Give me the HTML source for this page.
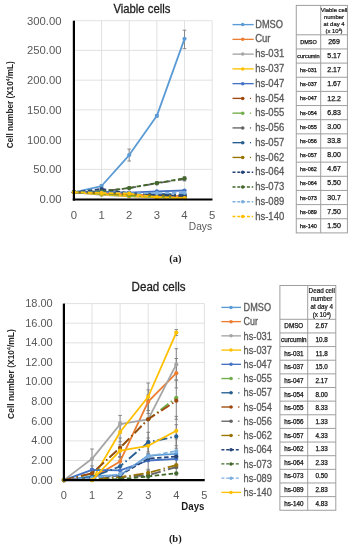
<!DOCTYPE html><html><head><meta charset="utf-8"><title>Viable and dead cells</title><style>html,body{margin:0;padding:0;background:#fff;}body{width:353px;height:550px;overflow:hidden;}svg{display:block;font-family:"Liberation Sans", sans-serif;filter:blur(0.35px);}</style></head><body>
<svg width="353" height="550" viewBox="0 0 353 550">
<rect width="353" height="550" fill="#fff"/>
<text x="113.4" y="13" font-size="12.3" fill="#1f1f1f" stroke="#1f1f1f" stroke-width="0.3" textLength="57" lengthAdjust="spacingAndGlyphs">Viable cells</text>
<text x="131.6" y="291" font-size="12.3" fill="#1f1f1f" stroke="#1f1f1f" stroke-width="0.3" textLength="54" lengthAdjust="spacingAndGlyphs">Dead cells</text>
<text transform="translate(13.0,148.2) rotate(-90)" font-size="9" font-weight="bold" fill="#262626" textLength="87" lengthAdjust="spacingAndGlyphs">Cell number (X10<tspan dy="-3" font-size="5.5">4</tspan><tspan dy="3">/mL)</tspan></text>
<text transform="translate(13.6,418.9) rotate(-90)" font-size="9" font-weight="bold" fill="#262626" textLength="89.6" lengthAdjust="spacingAndGlyphs">Cell number (X10<tspan dy="-3" font-size="5.5">4</tspan><tspan dy="3">/mL)</tspan></text>
<line x1="73.90" y1="169.37" x2="212.15" y2="169.37" stroke="#D9D9D9" stroke-width="0.8"/>
<line x1="73.90" y1="139.63" x2="212.15" y2="139.63" stroke="#D9D9D9" stroke-width="0.8"/>
<line x1="73.90" y1="109.89" x2="212.15" y2="109.89" stroke="#D9D9D9" stroke-width="0.8"/>
<line x1="73.90" y1="80.16" x2="212.15" y2="80.16" stroke="#D9D9D9" stroke-width="0.8"/>
<line x1="73.90" y1="50.42" x2="212.15" y2="50.42" stroke="#D9D9D9" stroke-width="0.8"/>
<line x1="73.90" y1="20.69" x2="212.15" y2="20.69" stroke="#D9D9D9" stroke-width="0.8"/>
<line x1="101.55" y1="20.69" x2="101.55" y2="199.10" stroke="#D9D9D9" stroke-width="0.8"/>
<line x1="129.20" y1="20.69" x2="129.20" y2="199.10" stroke="#D9D9D9" stroke-width="0.8"/>
<line x1="156.85" y1="20.69" x2="156.85" y2="199.10" stroke="#D9D9D9" stroke-width="0.8"/>
<line x1="184.50" y1="20.69" x2="184.50" y2="199.10" stroke="#D9D9D9" stroke-width="0.8"/>
<line x1="212.15" y1="20.69" x2="212.15" y2="199.10" stroke="#D9D9D9" stroke-width="0.8"/>
<text x="61.50" y="203.00" text-anchor="end" font-size="11.30" fill="#595959">0.00</text>
<text x="61.50" y="173.27" text-anchor="end" font-size="11.30" fill="#595959">50.00</text>
<text x="61.50" y="143.53" text-anchor="end" font-size="11.30" fill="#595959">100.00</text>
<text x="61.50" y="113.80" text-anchor="end" font-size="11.30" fill="#595959">150.00</text>
<text x="61.50" y="84.06" text-anchor="end" font-size="11.30" fill="#595959">200.00</text>
<text x="61.50" y="54.32" text-anchor="end" font-size="11.30" fill="#595959">250.00</text>
<text x="61.50" y="24.59" text-anchor="end" font-size="11.30" fill="#595959">300.00</text>
<text x="73.90" y="218.60" text-anchor="middle" font-size="11.30" fill="#595959">0</text>
<text x="101.55" y="218.60" text-anchor="middle" font-size="11.30" fill="#595959">1</text>
<text x="129.20" y="218.60" text-anchor="middle" font-size="11.30" fill="#595959">2</text>
<text x="156.85" y="218.60" text-anchor="middle" font-size="11.30" fill="#595959">3</text>
<text x="184.50" y="218.60" text-anchor="middle" font-size="11.30" fill="#595959">4</text>
<text x="212.15" y="218.60" text-anchor="middle" font-size="11.30" fill="#595959">5</text>
<g stroke="#7F7F7F" stroke-width="0.9"><line x1="129.20" y1="149.15" x2="129.20" y2="161.04"/><line x1="127.40" y1="149.15" x2="131.00" y2="149.15"/><line x1="127.40" y1="161.04" x2="131.00" y2="161.04"/></g>
<g stroke="#7F7F7F" stroke-width="0.9"><line x1="156.85" y1="114.65" x2="156.85" y2="117.03"/><line x1="155.05" y1="114.65" x2="158.65" y2="114.65"/><line x1="155.05" y1="117.03" x2="158.65" y2="117.03"/></g>
<g stroke="#7F7F7F" stroke-width="0.9"><line x1="184.50" y1="30.21" x2="184.50" y2="48.64"/><line x1="182.70" y1="30.21" x2="186.30" y2="30.21"/><line x1="182.70" y1="48.64" x2="186.30" y2="48.64"/></g>
<g stroke="#7F7F7F" stroke-width="0.9"><line x1="156.85" y1="181.73" x2="156.85" y2="184.71"/><line x1="155.05" y1="181.73" x2="158.65" y2="181.73"/><line x1="155.05" y1="184.71" x2="158.65" y2="184.71"/></g>
<g stroke="#7F7F7F" stroke-width="0.9"><line x1="184.50" y1="176.80" x2="184.50" y2="180.96"/><line x1="182.70" y1="176.80" x2="186.30" y2="176.80"/><line x1="182.70" y1="180.96" x2="186.30" y2="180.96"/></g>
<g stroke="#7F7F7F" stroke-width="0.9"><line x1="101.55" y1="184.83" x2="101.55" y2="187.21"/><line x1="99.75" y1="184.83" x2="103.35" y2="184.83"/><line x1="99.75" y1="187.21" x2="103.35" y2="187.21"/></g>
<polyline points="73.90,192.26 101.55,186.02 129.20,155.09 156.85,115.84 184.50,38.83" fill="none" stroke="#5B9BD5" stroke-width="1.80" stroke-linejoin="round"/>
<circle cx="73.90" cy="192.26" r="2.10" fill="#5B9BD5"/>
<circle cx="101.55" cy="186.02" r="2.10" fill="#5B9BD5"/>
<circle cx="129.20" cy="155.09" r="2.10" fill="#5B9BD5"/>
<circle cx="156.85" cy="115.84" r="2.10" fill="#5B9BD5"/>
<circle cx="184.50" cy="38.83" r="2.10" fill="#5B9BD5"/>
<polyline points="73.90,192.26 101.55,193.15 129.20,194.34 156.85,195.53 184.50,196.03" fill="none" stroke="#ED7D31" stroke-width="1.80" stroke-linejoin="round"/>
<circle cx="73.90" cy="192.26" r="2.10" fill="#ED7D31"/>
<circle cx="101.55" cy="193.15" r="2.10" fill="#ED7D31"/>
<circle cx="129.20" cy="194.34" r="2.10" fill="#ED7D31"/>
<circle cx="156.85" cy="195.53" r="2.10" fill="#ED7D31"/>
<circle cx="184.50" cy="196.03" r="2.10" fill="#ED7D31"/>
<polyline points="73.90,192.26 101.55,194.94 129.20,196.42 156.85,197.32 184.50,197.81" fill="none" stroke="#A5A5A5" stroke-width="1.80" stroke-linejoin="round"/>
<circle cx="73.90" cy="192.26" r="2.10" fill="#A5A5A5"/>
<circle cx="101.55" cy="194.94" r="2.10" fill="#A5A5A5"/>
<circle cx="129.20" cy="196.42" r="2.10" fill="#A5A5A5"/>
<circle cx="156.85" cy="197.32" r="2.10" fill="#A5A5A5"/>
<circle cx="184.50" cy="197.81" r="2.10" fill="#A5A5A5"/>
<polyline points="73.90,192.26 101.55,194.34 129.20,196.13 156.85,197.32 184.50,198.11" fill="none" stroke="#FFC000" stroke-width="1.80" stroke-linejoin="round"/>
<circle cx="73.90" cy="192.26" r="2.10" fill="#FFC000"/>
<circle cx="101.55" cy="194.34" r="2.10" fill="#FFC000"/>
<circle cx="129.20" cy="196.13" r="2.10" fill="#FFC000"/>
<circle cx="156.85" cy="197.32" r="2.10" fill="#FFC000"/>
<circle cx="184.50" cy="198.11" r="2.10" fill="#FFC000"/>
<polyline points="73.90,192.26 101.55,191.67 129.20,192.56 156.85,191.37 184.50,190.48" fill="none" stroke="#4472C4" stroke-width="1.80" stroke-linejoin="round"/>
<circle cx="73.90" cy="192.26" r="2.10" fill="#4472C4"/>
<circle cx="101.55" cy="191.67" r="2.10" fill="#4472C4"/>
<circle cx="129.20" cy="192.56" r="2.10" fill="#4472C4"/>
<circle cx="156.85" cy="191.37" r="2.10" fill="#4472C4"/>
<circle cx="184.50" cy="190.48" r="2.10" fill="#4472C4"/>
<polyline points="73.90,192.26 101.55,192.56 129.20,193.75 156.85,194.64 184.50,195.04" fill="none" stroke="#9E480E" stroke-width="1.80" stroke-linejoin="round" stroke-dasharray="10,3,1.5,3"/>
<circle cx="73.90" cy="192.26" r="2.10" fill="#9E480E"/>
<circle cx="101.55" cy="192.56" r="2.10" fill="#9E480E"/>
<circle cx="129.20" cy="193.75" r="2.10" fill="#9E480E"/>
<circle cx="156.85" cy="194.64" r="2.10" fill="#9E480E"/>
<circle cx="184.50" cy="195.04" r="2.10" fill="#9E480E"/>
<polyline points="73.90,192.26 101.55,193.75 129.20,195.53 156.85,196.72 184.50,197.32" fill="none" stroke="#70AD47" stroke-width="1.80" stroke-linejoin="round" stroke-dasharray="10,3,1.5,3"/>
<circle cx="73.90" cy="192.26" r="2.10" fill="#70AD47"/>
<circle cx="101.55" cy="193.75" r="2.10" fill="#70AD47"/>
<circle cx="129.20" cy="195.53" r="2.10" fill="#70AD47"/>
<circle cx="156.85" cy="196.72" r="2.10" fill="#70AD47"/>
<circle cx="184.50" cy="197.32" r="2.10" fill="#70AD47"/>
<polyline points="73.90,192.26 101.55,191.37 129.20,188.10 156.85,183.34 184.50,179.00" fill="none" stroke="#636363" stroke-width="1.80" stroke-linejoin="round" stroke-dasharray="10,3,1.5,3"/>
<circle cx="73.90" cy="192.26" r="2.10" fill="#636363"/>
<circle cx="101.55" cy="191.37" r="2.10" fill="#636363"/>
<circle cx="129.20" cy="188.10" r="2.10" fill="#636363"/>
<circle cx="156.85" cy="183.34" r="2.10" fill="#636363"/>
<circle cx="184.50" cy="179.00" r="2.10" fill="#636363"/>
<polyline points="73.90,192.26 101.55,192.56 129.20,193.15 156.85,193.75 184.50,194.34" fill="none" stroke="#255E91" stroke-width="1.80" stroke-linejoin="round" stroke-dasharray="10,3,1.5,3"/>
<circle cx="73.90" cy="192.26" r="2.10" fill="#255E91"/>
<circle cx="101.55" cy="192.56" r="2.10" fill="#255E91"/>
<circle cx="129.20" cy="193.15" r="2.10" fill="#255E91"/>
<circle cx="156.85" cy="193.75" r="2.10" fill="#255E91"/>
<circle cx="184.50" cy="194.34" r="2.10" fill="#255E91"/>
<polyline points="73.90,192.26 101.55,193.15 129.20,194.34 156.85,195.53 184.50,196.32" fill="none" stroke="#997300" stroke-width="1.80" stroke-linejoin="round" stroke-dasharray="10,3,1.5,3"/>
<circle cx="73.90" cy="192.26" r="2.10" fill="#997300"/>
<circle cx="101.55" cy="193.15" r="2.10" fill="#997300"/>
<circle cx="129.20" cy="194.34" r="2.10" fill="#997300"/>
<circle cx="156.85" cy="195.53" r="2.10" fill="#997300"/>
<circle cx="184.50" cy="196.32" r="2.10" fill="#997300"/>
<polyline points="73.90,192.26 101.55,188.99 129.20,193.15 156.85,194.94 184.50,195.83" fill="none" stroke="#264478" stroke-width="1.80" stroke-linejoin="round" stroke-dasharray="4.5,2.5"/>
<circle cx="73.90" cy="192.26" r="2.10" fill="#264478"/>
<circle cx="101.55" cy="188.99" r="2.10" fill="#264478"/>
<circle cx="129.20" cy="193.15" r="2.10" fill="#264478"/>
<circle cx="156.85" cy="194.94" r="2.10" fill="#264478"/>
<circle cx="184.50" cy="195.83" r="2.10" fill="#264478"/>
<polyline points="73.90,192.26 101.55,191.37 129.20,187.98 156.85,183.04 184.50,178.29" fill="none" stroke="#43682B" stroke-width="1.80" stroke-linejoin="round" stroke-dasharray="4.5,2.5"/>
<circle cx="73.90" cy="192.26" r="2.10" fill="#43682B"/>
<circle cx="101.55" cy="191.37" r="2.10" fill="#43682B"/>
<circle cx="129.20" cy="187.98" r="2.10" fill="#43682B"/>
<circle cx="156.85" cy="183.04" r="2.10" fill="#43682B"/>
<circle cx="184.50" cy="178.29" r="2.10" fill="#43682B"/>
<polyline points="73.90,192.26 101.55,192.56 129.20,193.15 156.85,193.15 184.50,192.86" fill="none" stroke="#7CAFDD" stroke-width="1.80" stroke-linejoin="round" stroke-dasharray="4.5,2.5"/>
<circle cx="73.90" cy="192.26" r="2.10" fill="#7CAFDD"/>
<circle cx="101.55" cy="192.56" r="2.10" fill="#7CAFDD"/>
<circle cx="129.20" cy="193.15" r="2.10" fill="#7CAFDD"/>
<circle cx="156.85" cy="193.15" r="2.10" fill="#7CAFDD"/>
<circle cx="184.50" cy="192.86" r="2.10" fill="#7CAFDD"/>
<polyline points="73.90,192.26 101.55,193.03 129.20,193.63 156.85,197.20 184.50,198.15" fill="none" stroke="#FFC000" stroke-width="1.80" stroke-linejoin="round" stroke-dasharray="4.5,2.5"/>
<circle cx="73.90" cy="192.26" r="2.10" fill="#FFC000"/>
<circle cx="101.55" cy="193.03" r="2.10" fill="#FFC000"/>
<circle cx="129.20" cy="193.63" r="2.10" fill="#FFC000"/>
<circle cx="156.85" cy="197.20" r="2.10" fill="#FFC000"/>
<circle cx="184.50" cy="198.15" r="2.10" fill="#FFC000"/>
<line x1="73.90" y1="20.69" x2="73.90" y2="200.60" stroke="#000" stroke-width="2.2"/>
<line x1="72.80" y1="199.50" x2="212.45" y2="199.50" stroke="#000" stroke-width="2.2"/>
<line x1="63.90" y1="460.49" x2="204.40" y2="460.49" stroke="#D9D9D9" stroke-width="0.8"/>
<line x1="63.90" y1="440.88" x2="204.40" y2="440.88" stroke="#D9D9D9" stroke-width="0.8"/>
<line x1="63.90" y1="421.26" x2="204.40" y2="421.26" stroke="#D9D9D9" stroke-width="0.8"/>
<line x1="63.90" y1="401.65" x2="204.40" y2="401.65" stroke="#D9D9D9" stroke-width="0.8"/>
<line x1="63.90" y1="382.04" x2="204.40" y2="382.04" stroke="#D9D9D9" stroke-width="0.8"/>
<line x1="63.90" y1="362.43" x2="204.40" y2="362.43" stroke="#D9D9D9" stroke-width="0.8"/>
<line x1="63.90" y1="342.82" x2="204.40" y2="342.82" stroke="#D9D9D9" stroke-width="0.8"/>
<line x1="63.90" y1="323.20" x2="204.40" y2="323.20" stroke="#D9D9D9" stroke-width="0.8"/>
<line x1="63.90" y1="303.59" x2="204.40" y2="303.59" stroke="#D9D9D9" stroke-width="0.8"/>
<line x1="92.00" y1="303.59" x2="92.00" y2="480.10" stroke="#D9D9D9" stroke-width="0.8"/>
<line x1="120.10" y1="303.59" x2="120.10" y2="480.10" stroke="#D9D9D9" stroke-width="0.8"/>
<line x1="148.20" y1="303.59" x2="148.20" y2="480.10" stroke="#D9D9D9" stroke-width="0.8"/>
<line x1="176.30" y1="303.59" x2="176.30" y2="480.10" stroke="#D9D9D9" stroke-width="0.8"/>
<line x1="204.40" y1="303.59" x2="204.40" y2="480.10" stroke="#D9D9D9" stroke-width="0.8"/>
<text x="52.70" y="483.50" text-anchor="end" font-size="11.00" fill="#595959">0.00</text>
<text x="52.70" y="463.89" text-anchor="end" font-size="11.00" fill="#595959">2.00</text>
<text x="52.70" y="444.28" text-anchor="end" font-size="11.00" fill="#595959">4.00</text>
<text x="52.70" y="424.66" text-anchor="end" font-size="11.00" fill="#595959">6.00</text>
<text x="52.70" y="405.05" text-anchor="end" font-size="11.00" fill="#595959">8.00</text>
<text x="52.70" y="385.44" text-anchor="end" font-size="11.00" fill="#595959">10.00</text>
<text x="52.70" y="365.83" text-anchor="end" font-size="11.00" fill="#595959">12.00</text>
<text x="52.70" y="346.22" text-anchor="end" font-size="11.00" fill="#595959">14.00</text>
<text x="52.70" y="326.60" text-anchor="end" font-size="11.00" fill="#595959">16.00</text>
<text x="52.70" y="306.99" text-anchor="end" font-size="11.00" fill="#595959">18.00</text>
<text x="63.90" y="498.60" text-anchor="middle" font-size="11.00" fill="#595959">0</text>
<text x="92.00" y="498.60" text-anchor="middle" font-size="11.00" fill="#595959">1</text>
<text x="120.10" y="498.60" text-anchor="middle" font-size="11.00" fill="#595959">2</text>
<text x="148.20" y="498.60" text-anchor="middle" font-size="11.00" fill="#595959">3</text>
<text x="176.30" y="498.60" text-anchor="middle" font-size="11.00" fill="#595959">4</text>
<text x="204.40" y="498.60" text-anchor="middle" font-size="11.00" fill="#595959">5</text>
<g stroke="#7F7F7F" stroke-width="0.9"><line x1="92.00" y1="449.01" x2="92.00" y2="468.63"/><line x1="90.20" y1="449.01" x2="93.80" y2="449.01"/><line x1="90.20" y1="468.63" x2="93.80" y2="468.63"/></g>
<g stroke="#7F7F7F" stroke-width="0.9"><line x1="92.00" y1="465.88" x2="92.00" y2="473.73"/><line x1="90.20" y1="465.88" x2="93.80" y2="465.88"/><line x1="90.20" y1="473.73" x2="93.80" y2="473.73"/></g>
<g stroke="#7F7F7F" stroke-width="0.9"><line x1="92.00" y1="470.29" x2="92.00" y2="476.18"/><line x1="90.20" y1="470.29" x2="93.80" y2="470.29"/><line x1="90.20" y1="476.18" x2="93.80" y2="476.18"/></g>
<g stroke="#7F7F7F" stroke-width="0.9"><line x1="120.10" y1="415.38" x2="120.10" y2="433.03"/><line x1="118.30" y1="415.38" x2="121.90" y2="415.38"/><line x1="118.30" y1="433.03" x2="121.90" y2="433.03"/></g>
<g stroke="#7F7F7F" stroke-width="0.9"><line x1="120.10" y1="422.24" x2="120.10" y2="441.86"/><line x1="118.30" y1="422.24" x2="121.90" y2="422.24"/><line x1="118.30" y1="441.86" x2="121.90" y2="441.86"/></g>
<g stroke="#7F7F7F" stroke-width="0.9"><line x1="120.10" y1="437.93" x2="120.10" y2="457.55"/><line x1="118.30" y1="437.93" x2="121.90" y2="437.93"/><line x1="118.30" y1="457.55" x2="121.90" y2="457.55"/></g>
<g stroke="#7F7F7F" stroke-width="0.9"><line x1="120.10" y1="449.70" x2="120.10" y2="473.24"/><line x1="118.30" y1="449.70" x2="121.90" y2="449.70"/><line x1="118.30" y1="473.24" x2="121.90" y2="473.24"/></g>
<g stroke="#7F7F7F" stroke-width="0.9"><line x1="120.10" y1="456.57" x2="120.10" y2="476.18"/><line x1="118.30" y1="456.57" x2="121.90" y2="456.57"/><line x1="118.30" y1="476.18" x2="121.90" y2="476.18"/></g>
<g stroke="#7F7F7F" stroke-width="0.9"><line x1="120.10" y1="444.80" x2="120.10" y2="456.57"/><line x1="118.30" y1="444.80" x2="121.90" y2="444.80"/><line x1="118.30" y1="456.57" x2="121.90" y2="456.57"/></g>
<g stroke="#7F7F7F" stroke-width="0.9"><line x1="148.20" y1="383.02" x2="148.20" y2="410.48"/><line x1="146.40" y1="383.02" x2="150.00" y2="383.02"/><line x1="146.40" y1="410.48" x2="150.00" y2="410.48"/></g>
<g stroke="#7F7F7F" stroke-width="0.9"><line x1="148.20" y1="389.88" x2="148.20" y2="413.42"/><line x1="146.40" y1="389.88" x2="150.00" y2="389.88"/><line x1="146.40" y1="413.42" x2="150.00" y2="413.42"/></g>
<g stroke="#7F7F7F" stroke-width="0.9"><line x1="148.20" y1="394.79" x2="148.20" y2="443.82"/><line x1="146.40" y1="394.79" x2="150.00" y2="394.79"/><line x1="146.40" y1="443.82" x2="150.00" y2="443.82"/></g>
<g stroke="#7F7F7F" stroke-width="0.9"><line x1="148.20" y1="432.34" x2="148.20" y2="451.96"/><line x1="146.40" y1="432.34" x2="150.00" y2="432.34"/><line x1="146.40" y1="451.96" x2="150.00" y2="451.96"/></g>
<g stroke="#7F7F7F" stroke-width="0.9"><line x1="148.20" y1="440.88" x2="148.20" y2="470.29"/><line x1="146.40" y1="440.88" x2="150.00" y2="440.88"/><line x1="146.40" y1="470.29" x2="150.00" y2="470.29"/></g>
<g stroke="#7F7F7F" stroke-width="0.9"><line x1="148.20" y1="437.93" x2="148.20" y2="453.62"/><line x1="146.40" y1="437.93" x2="150.00" y2="437.93"/><line x1="146.40" y1="453.62" x2="150.00" y2="453.62"/></g>
<g stroke="#7F7F7F" stroke-width="0.9"><line x1="148.20" y1="469.31" x2="148.20" y2="479.12"/><line x1="146.40" y1="469.31" x2="150.00" y2="469.31"/><line x1="146.40" y1="479.12" x2="150.00" y2="479.12"/></g>
<g stroke="#7F7F7F" stroke-width="0.9"><line x1="176.30" y1="329.58" x2="176.30" y2="335.46"/><line x1="174.50" y1="329.58" x2="178.10" y2="329.58"/><line x1="174.50" y1="335.46" x2="178.10" y2="335.46"/></g>
<g stroke="#7F7F7F" stroke-width="0.9"><line x1="176.30" y1="348.70" x2="176.30" y2="380.08"/><line x1="174.50" y1="348.70" x2="178.10" y2="348.70"/><line x1="174.50" y1="380.08" x2="178.10" y2="380.08"/></g>
<g stroke="#7F7F7F" stroke-width="0.9"><line x1="176.30" y1="358.51" x2="176.30" y2="387.92"/><line x1="174.50" y1="358.51" x2="178.10" y2="358.51"/><line x1="174.50" y1="387.92" x2="178.10" y2="387.92"/></g>
<g stroke="#7F7F7F" stroke-width="0.9"><line x1="176.30" y1="380.08" x2="176.30" y2="419.30"/><line x1="174.50" y1="380.08" x2="178.10" y2="380.08"/><line x1="174.50" y1="419.30" x2="178.10" y2="419.30"/></g>
<g stroke="#7F7F7F" stroke-width="0.9"><line x1="176.30" y1="416.36" x2="176.30" y2="445.78"/><line x1="174.50" y1="416.36" x2="178.10" y2="416.36"/><line x1="174.50" y1="445.78" x2="178.10" y2="445.78"/></g>
<g stroke="#7F7F7F" stroke-width="0.9"><line x1="176.30" y1="424.70" x2="176.30" y2="448.23"/><line x1="174.50" y1="424.70" x2="178.10" y2="424.70"/><line x1="174.50" y1="448.23" x2="178.10" y2="448.23"/></g>
<g stroke="#7F7F7F" stroke-width="0.9"><line x1="176.30" y1="438.91" x2="176.30" y2="468.33"/><line x1="174.50" y1="438.91" x2="178.10" y2="438.91"/><line x1="174.50" y1="468.33" x2="178.10" y2="468.33"/></g>
<g stroke="#7F7F7F" stroke-width="0.9"><line x1="176.30" y1="455.59" x2="176.30" y2="475.20"/><line x1="174.50" y1="455.59" x2="178.10" y2="455.59"/><line x1="174.50" y1="475.20" x2="178.10" y2="475.20"/></g>
<polyline points="63.90,480.10 92.00,476.18 120.10,475.20 148.20,455.59 176.30,453.92" fill="none" stroke="#5B9BD5" stroke-width="1.80" stroke-linejoin="round"/>
<circle cx="63.90" cy="480.10" r="2.10" fill="#5B9BD5"/>
<circle cx="92.00" cy="476.18" r="2.10" fill="#5B9BD5"/>
<circle cx="120.10" cy="475.20" r="2.10" fill="#5B9BD5"/>
<circle cx="148.20" cy="455.59" r="2.10" fill="#5B9BD5"/>
<circle cx="176.30" cy="453.92" r="2.10" fill="#5B9BD5"/>
<polyline points="63.90,480.10 92.00,478.14 120.10,461.47 148.20,401.65 176.30,373.21" fill="none" stroke="#ED7D31" stroke-width="1.80" stroke-linejoin="round"/>
<circle cx="63.90" cy="480.10" r="2.10" fill="#ED7D31"/>
<circle cx="92.00" cy="478.14" r="2.10" fill="#ED7D31"/>
<circle cx="120.10" cy="461.47" r="2.10" fill="#ED7D31"/>
<circle cx="148.20" cy="401.65" r="2.10" fill="#ED7D31"/>
<circle cx="176.30" cy="373.21" r="2.10" fill="#ED7D31"/>
<polyline points="63.90,480.10 92.00,458.82 120.10,424.21 148.20,419.30 176.30,364.39" fill="none" stroke="#A5A5A5" stroke-width="1.80" stroke-linejoin="round"/>
<circle cx="63.90" cy="480.10" r="2.10" fill="#A5A5A5"/>
<circle cx="92.00" cy="458.82" r="2.10" fill="#A5A5A5"/>
<circle cx="120.10" cy="424.21" r="2.10" fill="#A5A5A5"/>
<circle cx="148.20" cy="419.30" r="2.10" fill="#A5A5A5"/>
<circle cx="176.30" cy="364.39" r="2.10" fill="#A5A5A5"/>
<polyline points="63.90,480.10 92.00,480.10 120.10,432.05 148.20,396.75 176.30,332.52" fill="none" stroke="#FFC000" stroke-width="1.80" stroke-linejoin="round"/>
<circle cx="63.90" cy="480.10" r="2.10" fill="#FFC000"/>
<circle cx="92.00" cy="480.10" r="2.10" fill="#FFC000"/>
<circle cx="120.10" cy="432.05" r="2.10" fill="#FFC000"/>
<circle cx="148.20" cy="396.75" r="2.10" fill="#FFC000"/>
<circle cx="176.30" cy="332.52" r="2.10" fill="#FFC000"/>
<polyline points="63.90,480.10 92.00,469.80 120.10,470.29 148.20,460.49 176.30,458.82" fill="none" stroke="#4472C4" stroke-width="1.80" stroke-linejoin="round"/>
<circle cx="63.90" cy="480.10" r="2.10" fill="#4472C4"/>
<circle cx="92.00" cy="469.80" r="2.10" fill="#4472C4"/>
<circle cx="120.10" cy="470.29" r="2.10" fill="#4472C4"/>
<circle cx="148.20" cy="460.49" r="2.10" fill="#4472C4"/>
<circle cx="176.30" cy="458.82" r="2.10" fill="#4472C4"/>
<polyline points="63.90,480.10 92.00,473.63 120.10,447.74 148.20,419.30 176.30,397.73" fill="none" stroke="#70AD47" stroke-width="1.80" stroke-linejoin="round" stroke-dasharray="10,3,1.5,3"/>
<circle cx="63.90" cy="480.10" r="2.10" fill="#70AD47"/>
<circle cx="92.00" cy="473.63" r="2.10" fill="#70AD47"/>
<circle cx="120.10" cy="447.74" r="2.10" fill="#70AD47"/>
<circle cx="148.20" cy="419.30" r="2.10" fill="#70AD47"/>
<circle cx="176.30" cy="397.73" r="2.10" fill="#70AD47"/>
<polyline points="63.90,480.10 92.00,477.16 120.10,466.37 148.20,442.15 176.30,436.46" fill="none" stroke="#255E91" stroke-width="1.80" stroke-linejoin="round" stroke-dasharray="10,3,1.5,3"/>
<circle cx="63.90" cy="480.10" r="2.10" fill="#255E91"/>
<circle cx="92.00" cy="477.16" r="2.10" fill="#255E91"/>
<circle cx="120.10" cy="466.37" r="2.10" fill="#255E91"/>
<circle cx="148.20" cy="442.15" r="2.10" fill="#255E91"/>
<circle cx="176.30" cy="436.46" r="2.10" fill="#255E91"/>
<polyline points="63.90,480.10 92.00,473.24 120.10,447.74 148.20,419.30 176.30,400.67" fill="none" stroke="#9E480E" stroke-width="1.80" stroke-linejoin="round" stroke-dasharray="10,3,1.5,3"/>
<circle cx="63.90" cy="480.10" r="2.10" fill="#9E480E"/>
<circle cx="92.00" cy="473.24" r="2.10" fill="#9E480E"/>
<circle cx="120.10" cy="447.74" r="2.10" fill="#9E480E"/>
<circle cx="148.20" cy="419.30" r="2.10" fill="#9E480E"/>
<circle cx="176.30" cy="400.67" r="2.10" fill="#9E480E"/>
<polyline points="63.90,480.10 92.00,479.12 120.10,477.16 148.20,475.20 176.30,467.06" fill="none" stroke="#636363" stroke-width="1.80" stroke-linejoin="round" stroke-dasharray="10,3,1.5,3"/>
<circle cx="63.90" cy="480.10" r="2.10" fill="#636363"/>
<circle cx="92.00" cy="479.12" r="2.10" fill="#636363"/>
<circle cx="120.10" cy="477.16" r="2.10" fill="#636363"/>
<circle cx="148.20" cy="475.20" r="2.10" fill="#636363"/>
<circle cx="176.30" cy="467.06" r="2.10" fill="#636363"/>
<polyline points="63.90,480.10 92.00,479.12 120.10,477.16 148.20,472.94 176.30,465.10" fill="none" stroke="#997300" stroke-width="1.80" stroke-linejoin="round" stroke-dasharray="10,3,1.5,3"/>
<circle cx="63.90" cy="480.10" r="2.10" fill="#997300"/>
<circle cx="92.00" cy="479.12" r="2.10" fill="#997300"/>
<circle cx="120.10" cy="477.16" r="2.10" fill="#997300"/>
<circle cx="148.20" cy="472.94" r="2.10" fill="#997300"/>
<circle cx="176.30" cy="465.10" r="2.10" fill="#997300"/>
<polyline points="63.90,480.10 92.00,478.14 120.10,475.20 148.20,458.53 176.30,456.57" fill="none" stroke="#264478" stroke-width="1.80" stroke-linejoin="round" stroke-dasharray="4.5,2.5"/>
<circle cx="63.90" cy="480.10" r="2.10" fill="#264478"/>
<circle cx="92.00" cy="478.14" r="2.10" fill="#264478"/>
<circle cx="120.10" cy="475.20" r="2.10" fill="#264478"/>
<circle cx="148.20" cy="458.53" r="2.10" fill="#264478"/>
<circle cx="176.30" cy="456.57" r="2.10" fill="#264478"/>
<polyline points="63.90,480.10 92.00,480.10 120.10,479.12 148.20,476.47 176.30,473.24" fill="none" stroke="#43682B" stroke-width="1.80" stroke-linejoin="round" stroke-dasharray="4.5,2.5"/>
<circle cx="63.90" cy="480.10" r="2.10" fill="#43682B"/>
<circle cx="92.00" cy="480.10" r="2.10" fill="#43682B"/>
<circle cx="120.10" cy="479.12" r="2.10" fill="#43682B"/>
<circle cx="148.20" cy="476.47" r="2.10" fill="#43682B"/>
<circle cx="176.30" cy="473.24" r="2.10" fill="#43682B"/>
<polyline points="63.90,480.10 92.00,478.14 120.10,474.22 148.20,456.57 176.30,450.98" fill="none" stroke="#7CAFDD" stroke-width="1.80" stroke-linejoin="round" stroke-dasharray="4.5,2.5"/>
<circle cx="63.90" cy="480.10" r="2.10" fill="#7CAFDD"/>
<circle cx="92.00" cy="478.14" r="2.10" fill="#7CAFDD"/>
<circle cx="120.10" cy="474.22" r="2.10" fill="#7CAFDD"/>
<circle cx="148.20" cy="456.57" r="2.10" fill="#7CAFDD"/>
<circle cx="176.30" cy="450.98" r="2.10" fill="#7CAFDD"/>
<polyline points="63.90,480.10 92.00,480.10 120.10,450.68 148.20,445.78 176.30,430.78" fill="none" stroke="#FFC000" stroke-width="1.80" stroke-linejoin="round"/>
<circle cx="63.90" cy="480.10" r="2.10" fill="#FFC000"/>
<circle cx="92.00" cy="480.10" r="2.10" fill="#FFC000"/>
<circle cx="120.10" cy="450.68" r="2.10" fill="#FFC000"/>
<circle cx="148.20" cy="445.78" r="2.10" fill="#FFC000"/>
<circle cx="176.30" cy="430.78" r="2.10" fill="#FFC000"/>
<line x1="63.90" y1="303.59" x2="63.90" y2="481.20" stroke="#000" stroke-width="2.2"/>
<line x1="62.80" y1="480.10" x2="204.70" y2="480.10" stroke="#000" stroke-width="2.2"/>
<text x="188.8" y="230.2" font-size="10" fill="#595959" textLength="23.2" lengthAdjust="spacingAndGlyphs">Days</text>
<text x="181.3" y="510.2" font-size="10" font-weight="bold" fill="#1a1a1a" textLength="23.1" lengthAdjust="spacingAndGlyphs">Days</text>
<line x1="232.50" y1="24.60" x2="253.70" y2="24.60" stroke="#5B9BD5" stroke-width="1.35"/>
<circle cx="242.70" cy="24.60" r="1.75" fill="#5B9BD5"/>
<text x="255.20" y="27.70" font-size="10.60" fill="#595959" stroke="#595959" stroke-width="0.3" textLength="27.80" lengthAdjust="spacingAndGlyphs">DMSO</text>
<line x1="232.50" y1="39.36" x2="253.70" y2="39.36" stroke="#ED7D31" stroke-width="1.35"/>
<circle cx="242.70" cy="39.36" r="1.75" fill="#ED7D31"/>
<text x="255.20" y="42.46" font-size="10.60" fill="#595959" stroke="#595959" stroke-width="0.3" textLength="15.30" lengthAdjust="spacingAndGlyphs">Cur</text>
<line x1="232.50" y1="54.12" x2="253.70" y2="54.12" stroke="#A5A5A5" stroke-width="1.35"/>
<circle cx="242.70" cy="54.12" r="1.75" fill="#A5A5A5"/>
<text x="255.20" y="57.22" font-size="10.60" fill="#595959" stroke="#595959" stroke-width="0.3" textLength="29.00" lengthAdjust="spacingAndGlyphs">hs-031</text>
<line x1="232.50" y1="68.88" x2="253.70" y2="68.88" stroke="#FFC000" stroke-width="1.35"/>
<circle cx="242.70" cy="68.88" r="1.75" fill="#FFC000"/>
<text x="255.20" y="71.98" font-size="10.60" fill="#595959" stroke="#595959" stroke-width="0.3" textLength="29.00" lengthAdjust="spacingAndGlyphs">hs-037</text>
<line x1="232.50" y1="83.64" x2="253.70" y2="83.64" stroke="#4472C4" stroke-width="1.35"/>
<circle cx="242.70" cy="83.64" r="1.75" fill="#4472C4"/>
<text x="255.20" y="86.74" font-size="10.60" fill="#595959" stroke="#595959" stroke-width="0.3" textLength="29.00" lengthAdjust="spacingAndGlyphs">hs-047</text>
<line x1="232.50" y1="98.40" x2="244.20" y2="98.40" stroke="#9E480E" stroke-width="1.35"/>
<line x1="249.90" y1="98.40" x2="251.10" y2="98.40" stroke="#9E480E" stroke-width="1.3"/>
<circle cx="242.70" cy="98.40" r="1.75" fill="#9E480E"/>
<text x="255.20" y="101.50" font-size="10.60" fill="#595959" stroke="#595959" stroke-width="0.3" textLength="29.00" lengthAdjust="spacingAndGlyphs">hs-054</text>
<line x1="232.50" y1="113.16" x2="244.20" y2="113.16" stroke="#70AD47" stroke-width="1.35"/>
<line x1="249.90" y1="113.16" x2="251.10" y2="113.16" stroke="#70AD47" stroke-width="1.3"/>
<circle cx="242.70" cy="113.16" r="1.75" fill="#70AD47"/>
<text x="255.20" y="116.26" font-size="10.60" fill="#595959" stroke="#595959" stroke-width="0.3" textLength="29.00" lengthAdjust="spacingAndGlyphs">hs-055</text>
<line x1="232.50" y1="127.92" x2="244.20" y2="127.92" stroke="#636363" stroke-width="1.35"/>
<line x1="249.90" y1="127.92" x2="251.10" y2="127.92" stroke="#636363" stroke-width="1.3"/>
<circle cx="242.70" cy="127.92" r="1.75" fill="#636363"/>
<text x="255.20" y="131.02" font-size="10.60" fill="#595959" stroke="#595959" stroke-width="0.3" textLength="29.00" lengthAdjust="spacingAndGlyphs">hs-056</text>
<line x1="232.50" y1="142.68" x2="244.20" y2="142.68" stroke="#255E91" stroke-width="1.35"/>
<line x1="249.90" y1="142.68" x2="251.10" y2="142.68" stroke="#255E91" stroke-width="1.3"/>
<circle cx="242.70" cy="142.68" r="1.75" fill="#255E91"/>
<text x="255.20" y="145.78" font-size="10.60" fill="#595959" stroke="#595959" stroke-width="0.3" textLength="29.00" lengthAdjust="spacingAndGlyphs">hs-057</text>
<line x1="232.50" y1="157.44" x2="244.20" y2="157.44" stroke="#997300" stroke-width="1.35"/>
<line x1="249.90" y1="157.44" x2="251.10" y2="157.44" stroke="#997300" stroke-width="1.3"/>
<circle cx="242.70" cy="157.44" r="1.75" fill="#997300"/>
<text x="255.20" y="160.54" font-size="10.60" fill="#595959" stroke="#595959" stroke-width="0.3" textLength="29.00" lengthAdjust="spacingAndGlyphs">hs-062</text>
<line x1="232.50" y1="172.20" x2="253.20" y2="172.20" stroke="#264478" stroke-width="1.35" stroke-dasharray="3,1.8"/>
<circle cx="242.70" cy="172.20" r="1.75" fill="#264478"/>
<text x="255.20" y="175.30" font-size="10.60" fill="#595959" stroke="#595959" stroke-width="0.3" textLength="29.00" lengthAdjust="spacingAndGlyphs">hs-064</text>
<line x1="232.50" y1="186.96" x2="253.20" y2="186.96" stroke="#43682B" stroke-width="1.35" stroke-dasharray="3,1.8"/>
<circle cx="242.70" cy="186.96" r="1.75" fill="#43682B"/>
<text x="255.20" y="190.06" font-size="10.60" fill="#595959" stroke="#595959" stroke-width="0.3" textLength="29.00" lengthAdjust="spacingAndGlyphs">hs-073</text>
<line x1="232.50" y1="201.72" x2="253.20" y2="201.72" stroke="#7CAFDD" stroke-width="1.35" stroke-dasharray="3,1.8"/>
<circle cx="242.70" cy="201.72" r="1.75" fill="#7CAFDD"/>
<text x="255.20" y="204.82" font-size="10.60" fill="#595959" stroke="#595959" stroke-width="0.3" textLength="29.00" lengthAdjust="spacingAndGlyphs">hs-089</text>
<line x1="232.50" y1="216.48" x2="253.20" y2="216.48" stroke="#FFC000" stroke-width="1.35" stroke-dasharray="3,1.8"/>
<circle cx="242.70" cy="216.48" r="1.75" fill="#FFC000"/>
<text x="255.20" y="219.58" font-size="10.60" fill="#595959" stroke="#595959" stroke-width="0.3" textLength="29.00" lengthAdjust="spacingAndGlyphs">hs-140</text>
<line x1="221.40" y1="307.40" x2="241.00" y2="307.40" stroke="#5B9BD5" stroke-width="1.35"/>
<circle cx="231.00" cy="307.40" r="1.75" fill="#5B9BD5"/>
<text x="243.60" y="311.10" font-size="10.20" fill="#595959" stroke="#595959" stroke-width="0.3" textLength="27.40" lengthAdjust="spacingAndGlyphs">DMSO</text>
<line x1="221.40" y1="321.63" x2="241.00" y2="321.63" stroke="#ED7D31" stroke-width="1.35"/>
<circle cx="231.00" cy="321.63" r="1.75" fill="#ED7D31"/>
<text x="243.60" y="325.33" font-size="10.20" fill="#595959" stroke="#595959" stroke-width="0.3" textLength="14.40" lengthAdjust="spacingAndGlyphs">Cur</text>
<line x1="221.40" y1="335.86" x2="241.00" y2="335.86" stroke="#A5A5A5" stroke-width="1.35"/>
<circle cx="231.00" cy="335.86" r="1.75" fill="#A5A5A5"/>
<text x="243.60" y="339.56" font-size="10.20" fill="#595959" stroke="#595959" stroke-width="0.3" textLength="28.20" lengthAdjust="spacingAndGlyphs">hs-031</text>
<line x1="221.40" y1="350.09" x2="241.00" y2="350.09" stroke="#FFC000" stroke-width="1.35"/>
<circle cx="231.00" cy="350.09" r="1.75" fill="#FFC000"/>
<text x="243.60" y="353.79" font-size="10.20" fill="#595959" stroke="#595959" stroke-width="0.3" textLength="28.20" lengthAdjust="spacingAndGlyphs">hs-037</text>
<line x1="221.40" y1="364.32" x2="241.00" y2="364.32" stroke="#4472C4" stroke-width="1.35"/>
<circle cx="231.00" cy="364.32" r="1.75" fill="#4472C4"/>
<text x="243.60" y="368.02" font-size="10.20" fill="#595959" stroke="#595959" stroke-width="0.3" textLength="28.20" lengthAdjust="spacingAndGlyphs">hs-047</text>
<line x1="221.40" y1="378.55" x2="232.50" y2="378.55" stroke="#70AD47" stroke-width="1.35"/>
<line x1="238.20" y1="378.55" x2="239.40" y2="378.55" stroke="#70AD47" stroke-width="1.3"/>
<circle cx="231.00" cy="378.55" r="1.75" fill="#70AD47"/>
<text x="243.60" y="382.25" font-size="10.20" fill="#595959" stroke="#595959" stroke-width="0.3" textLength="28.20" lengthAdjust="spacingAndGlyphs">hs-055</text>
<line x1="221.40" y1="392.78" x2="232.50" y2="392.78" stroke="#255E91" stroke-width="1.35"/>
<line x1="238.20" y1="392.78" x2="239.40" y2="392.78" stroke="#255E91" stroke-width="1.3"/>
<circle cx="231.00" cy="392.78" r="1.75" fill="#255E91"/>
<text x="243.60" y="396.48" font-size="10.20" fill="#595959" stroke="#595959" stroke-width="0.3" textLength="28.20" lengthAdjust="spacingAndGlyphs">hs-057</text>
<line x1="221.40" y1="407.01" x2="232.50" y2="407.01" stroke="#9E480E" stroke-width="1.35"/>
<line x1="238.20" y1="407.01" x2="239.40" y2="407.01" stroke="#9E480E" stroke-width="1.3"/>
<circle cx="231.00" cy="407.01" r="1.75" fill="#9E480E"/>
<text x="243.60" y="410.71" font-size="10.20" fill="#595959" stroke="#595959" stroke-width="0.3" textLength="28.20" lengthAdjust="spacingAndGlyphs">hs-054</text>
<line x1="221.40" y1="421.24" x2="232.50" y2="421.24" stroke="#636363" stroke-width="1.35"/>
<line x1="238.20" y1="421.24" x2="239.40" y2="421.24" stroke="#636363" stroke-width="1.3"/>
<circle cx="231.00" cy="421.24" r="1.75" fill="#636363"/>
<text x="243.60" y="424.94" font-size="10.20" fill="#595959" stroke="#595959" stroke-width="0.3" textLength="28.20" lengthAdjust="spacingAndGlyphs">hs-056</text>
<line x1="221.40" y1="435.47" x2="232.50" y2="435.47" stroke="#997300" stroke-width="1.35"/>
<line x1="238.20" y1="435.47" x2="239.40" y2="435.47" stroke="#997300" stroke-width="1.3"/>
<circle cx="231.00" cy="435.47" r="1.75" fill="#997300"/>
<text x="243.60" y="439.17" font-size="10.20" fill="#595959" stroke="#595959" stroke-width="0.3" textLength="28.20" lengthAdjust="spacingAndGlyphs">hs-062</text>
<line x1="221.40" y1="449.70" x2="240.50" y2="449.70" stroke="#264478" stroke-width="1.35" stroke-dasharray="3,1.8"/>
<circle cx="231.00" cy="449.70" r="1.75" fill="#264478"/>
<text x="243.60" y="453.40" font-size="10.20" fill="#595959" stroke="#595959" stroke-width="0.3" textLength="28.20" lengthAdjust="spacingAndGlyphs">hs-064</text>
<line x1="221.40" y1="463.93" x2="240.50" y2="463.93" stroke="#43682B" stroke-width="1.35" stroke-dasharray="3,1.8"/>
<circle cx="231.00" cy="463.93" r="1.75" fill="#43682B"/>
<text x="243.60" y="467.63" font-size="10.20" fill="#595959" stroke="#595959" stroke-width="0.3" textLength="28.20" lengthAdjust="spacingAndGlyphs">hs-073</text>
<line x1="221.40" y1="478.16" x2="240.50" y2="478.16" stroke="#7CAFDD" stroke-width="1.35" stroke-dasharray="3,1.8"/>
<circle cx="231.00" cy="478.16" r="1.75" fill="#7CAFDD"/>
<text x="243.60" y="481.86" font-size="10.20" fill="#595959" stroke="#595959" stroke-width="0.3" textLength="28.20" lengthAdjust="spacingAndGlyphs">hs-089</text>
<line x1="221.40" y1="492.39" x2="241.00" y2="492.39" stroke="#FFC000" stroke-width="1.35"/>
<circle cx="231.00" cy="492.39" r="1.75" fill="#FFC000"/>
<text x="243.60" y="496.09" font-size="10.20" fill="#595959" stroke="#595959" stroke-width="0.3" textLength="28.20" lengthAdjust="spacingAndGlyphs">hs-140</text>
<g stroke="#9A9A9A" stroke-width="0.95" fill="none">
<rect x="296.25" y="5.40" width="51.15" height="227.50"/>
<line x1="320.70" y1="5.40" x2="320.70" y2="232.90"/>
<line x1="296.25" y1="34.80" x2="347.40" y2="34.80"/>
<line x1="296.25" y1="48.95" x2="347.40" y2="48.95"/>
<line x1="296.25" y1="63.10" x2="347.40" y2="63.10"/>
<line x1="296.25" y1="77.25" x2="347.40" y2="77.25"/>
<line x1="296.25" y1="91.40" x2="347.40" y2="91.40"/>
<line x1="296.25" y1="105.55" x2="347.40" y2="105.55"/>
<line x1="296.25" y1="119.70" x2="347.40" y2="119.70"/>
<line x1="296.25" y1="133.85" x2="347.40" y2="133.85"/>
<line x1="296.25" y1="148.00" x2="347.40" y2="148.00"/>
<line x1="296.25" y1="162.15" x2="347.40" y2="162.15"/>
<line x1="296.25" y1="176.30" x2="347.40" y2="176.30"/>
<line x1="296.25" y1="190.45" x2="347.40" y2="190.45"/>
<line x1="296.25" y1="204.60" x2="347.40" y2="204.60"/>
<line x1="296.25" y1="218.75" x2="347.40" y2="218.75"/>
</g>
<text x="334.05" y="11.60" text-anchor="middle" font-size="5.90" fill="#111" stroke="#111" stroke-width="0.2">Viable cell</text>
<text x="334.05" y="18.60" text-anchor="middle" font-size="5.90" fill="#111" stroke="#111" stroke-width="0.2">number</text>
<text x="334.05" y="25.60" text-anchor="middle" font-size="5.90" fill="#111" stroke="#111" stroke-width="0.2">at day 4</text>
<text x="334.05" y="32.60" text-anchor="middle" font-size="5.90" fill="#111" stroke="#111" stroke-width="0.2">(x 10<tspan dy="-2" font-size="3.5">4</tspan><tspan dy="2">)</tspan></text>
<text x="308.48" y="43.85" text-anchor="middle" font-size="5.50" fill="#111" stroke="#111" stroke-width="0.25">DMSO</text>
<text x="334.05" y="43.91" text-anchor="middle" font-size="7.00" fill="#111" stroke="#111" stroke-width="0.25">269</text>
<text x="308.48" y="58.00" text-anchor="middle" font-size="5.50" fill="#111" stroke="#111" stroke-width="0.25">curcumin</text>
<text x="334.05" y="58.05" text-anchor="middle" font-size="7.00" fill="#111" stroke="#111" stroke-width="0.25">5.17</text>
<text x="308.48" y="72.16" text-anchor="middle" font-size="5.50" fill="#111" stroke="#111" stroke-width="0.25">hs-031</text>
<text x="334.05" y="72.20" text-anchor="middle" font-size="7.00" fill="#111" stroke="#111" stroke-width="0.25">2.17</text>
<text x="308.48" y="86.31" text-anchor="middle" font-size="5.50" fill="#111" stroke="#111" stroke-width="0.25">hs-037</text>
<text x="334.05" y="86.36" text-anchor="middle" font-size="7.00" fill="#111" stroke="#111" stroke-width="0.25">1.67</text>
<text x="308.48" y="100.46" text-anchor="middle" font-size="5.50" fill="#111" stroke="#111" stroke-width="0.25">hs-047</text>
<text x="334.05" y="100.51" text-anchor="middle" font-size="7.00" fill="#111" stroke="#111" stroke-width="0.25">12.2</text>
<text x="308.48" y="114.61" text-anchor="middle" font-size="5.50" fill="#111" stroke="#111" stroke-width="0.25">hs-054</text>
<text x="334.05" y="114.66" text-anchor="middle" font-size="7.00" fill="#111" stroke="#111" stroke-width="0.25">6.83</text>
<text x="308.48" y="128.75" text-anchor="middle" font-size="5.50" fill="#111" stroke="#111" stroke-width="0.25">hs-055</text>
<text x="334.05" y="128.81" text-anchor="middle" font-size="7.00" fill="#111" stroke="#111" stroke-width="0.25">3.00</text>
<text x="308.48" y="142.90" text-anchor="middle" font-size="5.50" fill="#111" stroke="#111" stroke-width="0.25">hs-056</text>
<text x="334.05" y="142.95" text-anchor="middle" font-size="7.00" fill="#111" stroke="#111" stroke-width="0.25">33.8</text>
<text x="308.48" y="157.05" text-anchor="middle" font-size="5.50" fill="#111" stroke="#111" stroke-width="0.25">hs-057</text>
<text x="334.05" y="157.10" text-anchor="middle" font-size="7.00" fill="#111" stroke="#111" stroke-width="0.25">8.00</text>
<text x="308.48" y="171.20" text-anchor="middle" font-size="5.50" fill="#111" stroke="#111" stroke-width="0.25">hs-062</text>
<text x="334.05" y="171.25" text-anchor="middle" font-size="7.00" fill="#111" stroke="#111" stroke-width="0.25">4.67</text>
<text x="308.48" y="185.35" text-anchor="middle" font-size="5.50" fill="#111" stroke="#111" stroke-width="0.25">hs-064</text>
<text x="334.05" y="185.41" text-anchor="middle" font-size="7.00" fill="#111" stroke="#111" stroke-width="0.25">5.50</text>
<text x="308.48" y="199.50" text-anchor="middle" font-size="5.50" fill="#111" stroke="#111" stroke-width="0.25">hs-073</text>
<text x="334.05" y="199.55" text-anchor="middle" font-size="7.00" fill="#111" stroke="#111" stroke-width="0.25">30.7</text>
<text x="308.48" y="213.66" text-anchor="middle" font-size="5.50" fill="#111" stroke="#111" stroke-width="0.25">hs-089</text>
<text x="334.05" y="213.71" text-anchor="middle" font-size="7.00" fill="#111" stroke="#111" stroke-width="0.25">7.50</text>
<text x="308.48" y="227.80" text-anchor="middle" font-size="5.50" fill="#111" stroke="#111" stroke-width="0.25">hs-140</text>
<text x="334.05" y="227.85" text-anchor="middle" font-size="7.00" fill="#111" stroke="#111" stroke-width="0.25">1.50</text>
<g stroke="#9A9A9A" stroke-width="0.95" fill="none">
<rect x="279.90" y="285.50" width="55.90" height="224.76"/>
<line x1="307.70" y1="285.50" x2="307.70" y2="510.26"/>
<line x1="279.90" y1="319.30" x2="335.80" y2="319.30"/>
<line x1="279.90" y1="332.94" x2="335.80" y2="332.94"/>
<line x1="279.90" y1="346.58" x2="335.80" y2="346.58"/>
<line x1="279.90" y1="360.22" x2="335.80" y2="360.22"/>
<line x1="279.90" y1="373.86" x2="335.80" y2="373.86"/>
<line x1="279.90" y1="387.50" x2="335.80" y2="387.50"/>
<line x1="279.90" y1="401.14" x2="335.80" y2="401.14"/>
<line x1="279.90" y1="414.78" x2="335.80" y2="414.78"/>
<line x1="279.90" y1="428.42" x2="335.80" y2="428.42"/>
<line x1="279.90" y1="442.06" x2="335.80" y2="442.06"/>
<line x1="279.90" y1="455.70" x2="335.80" y2="455.70"/>
<line x1="279.90" y1="469.34" x2="335.80" y2="469.34"/>
<line x1="279.90" y1="482.98" x2="335.80" y2="482.98"/>
<line x1="279.90" y1="496.62" x2="335.80" y2="496.62"/>
</g>
<text x="321.75" y="293.10" text-anchor="middle" font-size="6.30" fill="#111" stroke="#111" stroke-width="0.2">Dead cell</text>
<text x="321.75" y="300.95" text-anchor="middle" font-size="6.30" fill="#111" stroke="#111" stroke-width="0.2">number</text>
<text x="321.75" y="308.80" text-anchor="middle" font-size="6.30" fill="#111" stroke="#111" stroke-width="0.2">at day 4</text>
<text x="321.75" y="316.65" text-anchor="middle" font-size="6.30" fill="#111" stroke="#111" stroke-width="0.2">(x 10<tspan dy="-2" font-size="3.8">4</tspan><tspan dy="2">)</tspan></text>
<text x="293.80" y="328.39" text-anchor="middle" font-size="6.30" fill="#111" stroke="#111" stroke-width="0.25">DMSO</text>
<text x="321.75" y="328.39" text-anchor="middle" font-size="6.30" fill="#111" stroke="#111" stroke-width="0.25">2.67</text>
<text x="293.80" y="342.03" text-anchor="middle" font-size="6.30" fill="#111" stroke="#111" stroke-width="0.25">curcumin</text>
<text x="321.75" y="342.03" text-anchor="middle" font-size="6.30" fill="#111" stroke="#111" stroke-width="0.25">10.8</text>
<text x="293.80" y="355.67" text-anchor="middle" font-size="6.30" fill="#111" stroke="#111" stroke-width="0.25">hs-031</text>
<text x="321.75" y="355.67" text-anchor="middle" font-size="6.30" fill="#111" stroke="#111" stroke-width="0.25">11.8</text>
<text x="293.80" y="369.31" text-anchor="middle" font-size="6.30" fill="#111" stroke="#111" stroke-width="0.25">hs-037</text>
<text x="321.75" y="369.31" text-anchor="middle" font-size="6.30" fill="#111" stroke="#111" stroke-width="0.25">15.0</text>
<text x="293.80" y="382.95" text-anchor="middle" font-size="6.30" fill="#111" stroke="#111" stroke-width="0.25">hs-047</text>
<text x="321.75" y="382.95" text-anchor="middle" font-size="6.30" fill="#111" stroke="#111" stroke-width="0.25">2.17</text>
<text x="293.80" y="396.59" text-anchor="middle" font-size="6.30" fill="#111" stroke="#111" stroke-width="0.25">hs-054</text>
<text x="321.75" y="396.59" text-anchor="middle" font-size="6.30" fill="#111" stroke="#111" stroke-width="0.25">8.00</text>
<text x="293.80" y="410.23" text-anchor="middle" font-size="6.30" fill="#111" stroke="#111" stroke-width="0.25">hs-055</text>
<text x="321.75" y="410.23" text-anchor="middle" font-size="6.30" fill="#111" stroke="#111" stroke-width="0.25">8.33</text>
<text x="293.80" y="423.87" text-anchor="middle" font-size="6.30" fill="#111" stroke="#111" stroke-width="0.25">hs-056</text>
<text x="321.75" y="423.87" text-anchor="middle" font-size="6.30" fill="#111" stroke="#111" stroke-width="0.25">1.33</text>
<text x="293.80" y="437.51" text-anchor="middle" font-size="6.30" fill="#111" stroke="#111" stroke-width="0.25">hs-057</text>
<text x="321.75" y="437.51" text-anchor="middle" font-size="6.30" fill="#111" stroke="#111" stroke-width="0.25">4.33</text>
<text x="293.80" y="451.15" text-anchor="middle" font-size="6.30" fill="#111" stroke="#111" stroke-width="0.25">hs-062</text>
<text x="321.75" y="451.15" text-anchor="middle" font-size="6.30" fill="#111" stroke="#111" stroke-width="0.25">1.33</text>
<text x="293.80" y="464.79" text-anchor="middle" font-size="6.30" fill="#111" stroke="#111" stroke-width="0.25">hs-064</text>
<text x="321.75" y="464.79" text-anchor="middle" font-size="6.30" fill="#111" stroke="#111" stroke-width="0.25">2.33</text>
<text x="293.80" y="478.43" text-anchor="middle" font-size="6.30" fill="#111" stroke="#111" stroke-width="0.25">hs-073</text>
<text x="321.75" y="478.43" text-anchor="middle" font-size="6.30" fill="#111" stroke="#111" stroke-width="0.25">0.50</text>
<text x="293.80" y="492.07" text-anchor="middle" font-size="6.30" fill="#111" stroke="#111" stroke-width="0.25">hs-089</text>
<text x="321.75" y="492.07" text-anchor="middle" font-size="6.30" fill="#111" stroke="#111" stroke-width="0.25">2.83</text>
<text x="293.80" y="505.71" text-anchor="middle" font-size="6.30" fill="#111" stroke="#111" stroke-width="0.25">hs-140</text>
<text x="321.75" y="505.71" text-anchor="middle" font-size="6.30" fill="#111" stroke="#111" stroke-width="0.25">4.83</text>
<text x="175.4" y="262.3" text-anchor="middle" font-family="Liberation Serif" font-weight="bold" font-size="10.5" fill="#1a1a1a">(a)</text>
<text x="175.3" y="542.2" text-anchor="middle" font-family="Liberation Serif" font-weight="bold" font-size="10.5" fill="#1a1a1a">(b)</text>
</svg></body></html>
